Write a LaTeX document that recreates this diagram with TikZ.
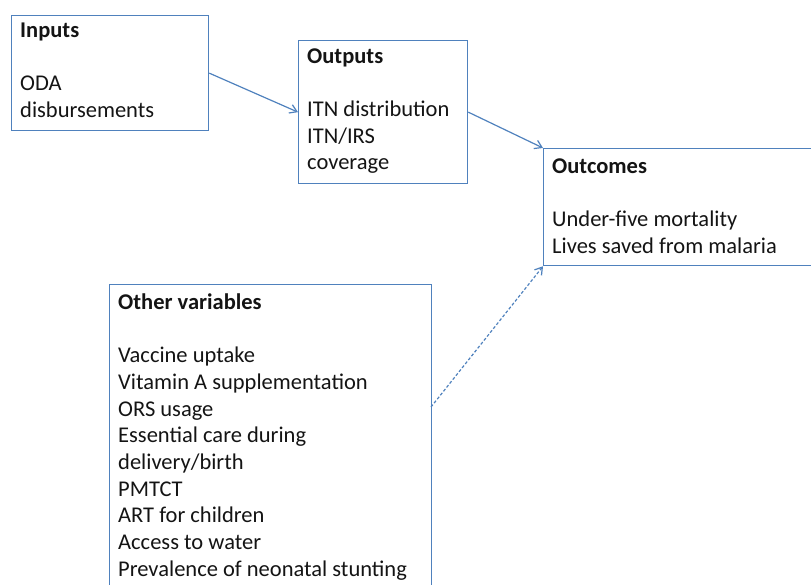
\documentclass[tikz,border=0pt]{standalone}
\usepackage{fontspec}
\setmainfont{Carlito}
\usetikzlibrary{arrows.meta}
\definecolor{frameblue}{RGB}{79,129,189}
\definecolor{textdark}{RGB}{20,20,20}
% fixed height for the first line, so every text block starts 16pt above its first baseline
\newcommand{\firstline}{\rule{0pt}{16pt}}
\tikzset{
  box/.style={draw=frameblue, line width=1.3pt, rectangle, inner sep=0pt, anchor=north west},
  label/.style={anchor=north west, align=left, inner sep=0pt, text=textdark,
    font=\fontsize{22.5}{26.7}\selectfont},
  link/.style={draw=frameblue, line width=1.2pt, -{Straight Barb[length=7pt,width=9pt]}},
  weaklink/.style={link, dash pattern=on 3pt off 2pt}
}
\begin{document}
\begin{tikzpicture}[x=1pt,y=-1pt]
\useasboundingbox (0,0) rectangle (811,585);
\clip (0,0) rectangle (811,585);

% boxes
\node[box, minimum width=197pt, minimum height=115pt] (inputs) at (11,15) {};
\node[box, minimum width=169pt, minimum height=143pt] (outputs) at (298,40) {};
\node[box, minimum width=290pt, minimum height=117pt] (outcomes) at (543,148) {};
\node[box, minimum width=322pt, minimum height=320pt] (other) at (109,284) {};

% box texts (first baseline = position + 16)
\node[label] (inputstext) at (20,21) {\firstline\textbf{Inputs}\\[26.7pt]ODA\\disbursements};
\node[label] (outputstext) at (307,47) {\firstline\textbf{Outputs}\\[26.7pt]ITN distribution\\ITN/IRS\\coverage};
\node[label] (outcomestext) at (552,157) {\firstline\textbf{Outcomes}\\[26.7pt]Under-five mortality\\Lives saved from malaria};
\node[label] (othertext) at (118,293) {\firstline\textbf{Other variables}\\[26.7pt]Vaccine uptake\\Vitamin A supplementation\\ORS usage\\Essential care during\\delivery/birth\\PMTCT\\ART for children\\Access to water\\Prevalence of neonatal stunting};

% connectors
\coordinate (otherout) at (431,407);
\draw[link] (inputs.east) -- (outputs.west);
\draw[link] (outputs.east) -- (outcomes.north west);
\draw[weaklink] (otherout) -- (outcomes.south west);
\end{tikzpicture}
\end{document}
